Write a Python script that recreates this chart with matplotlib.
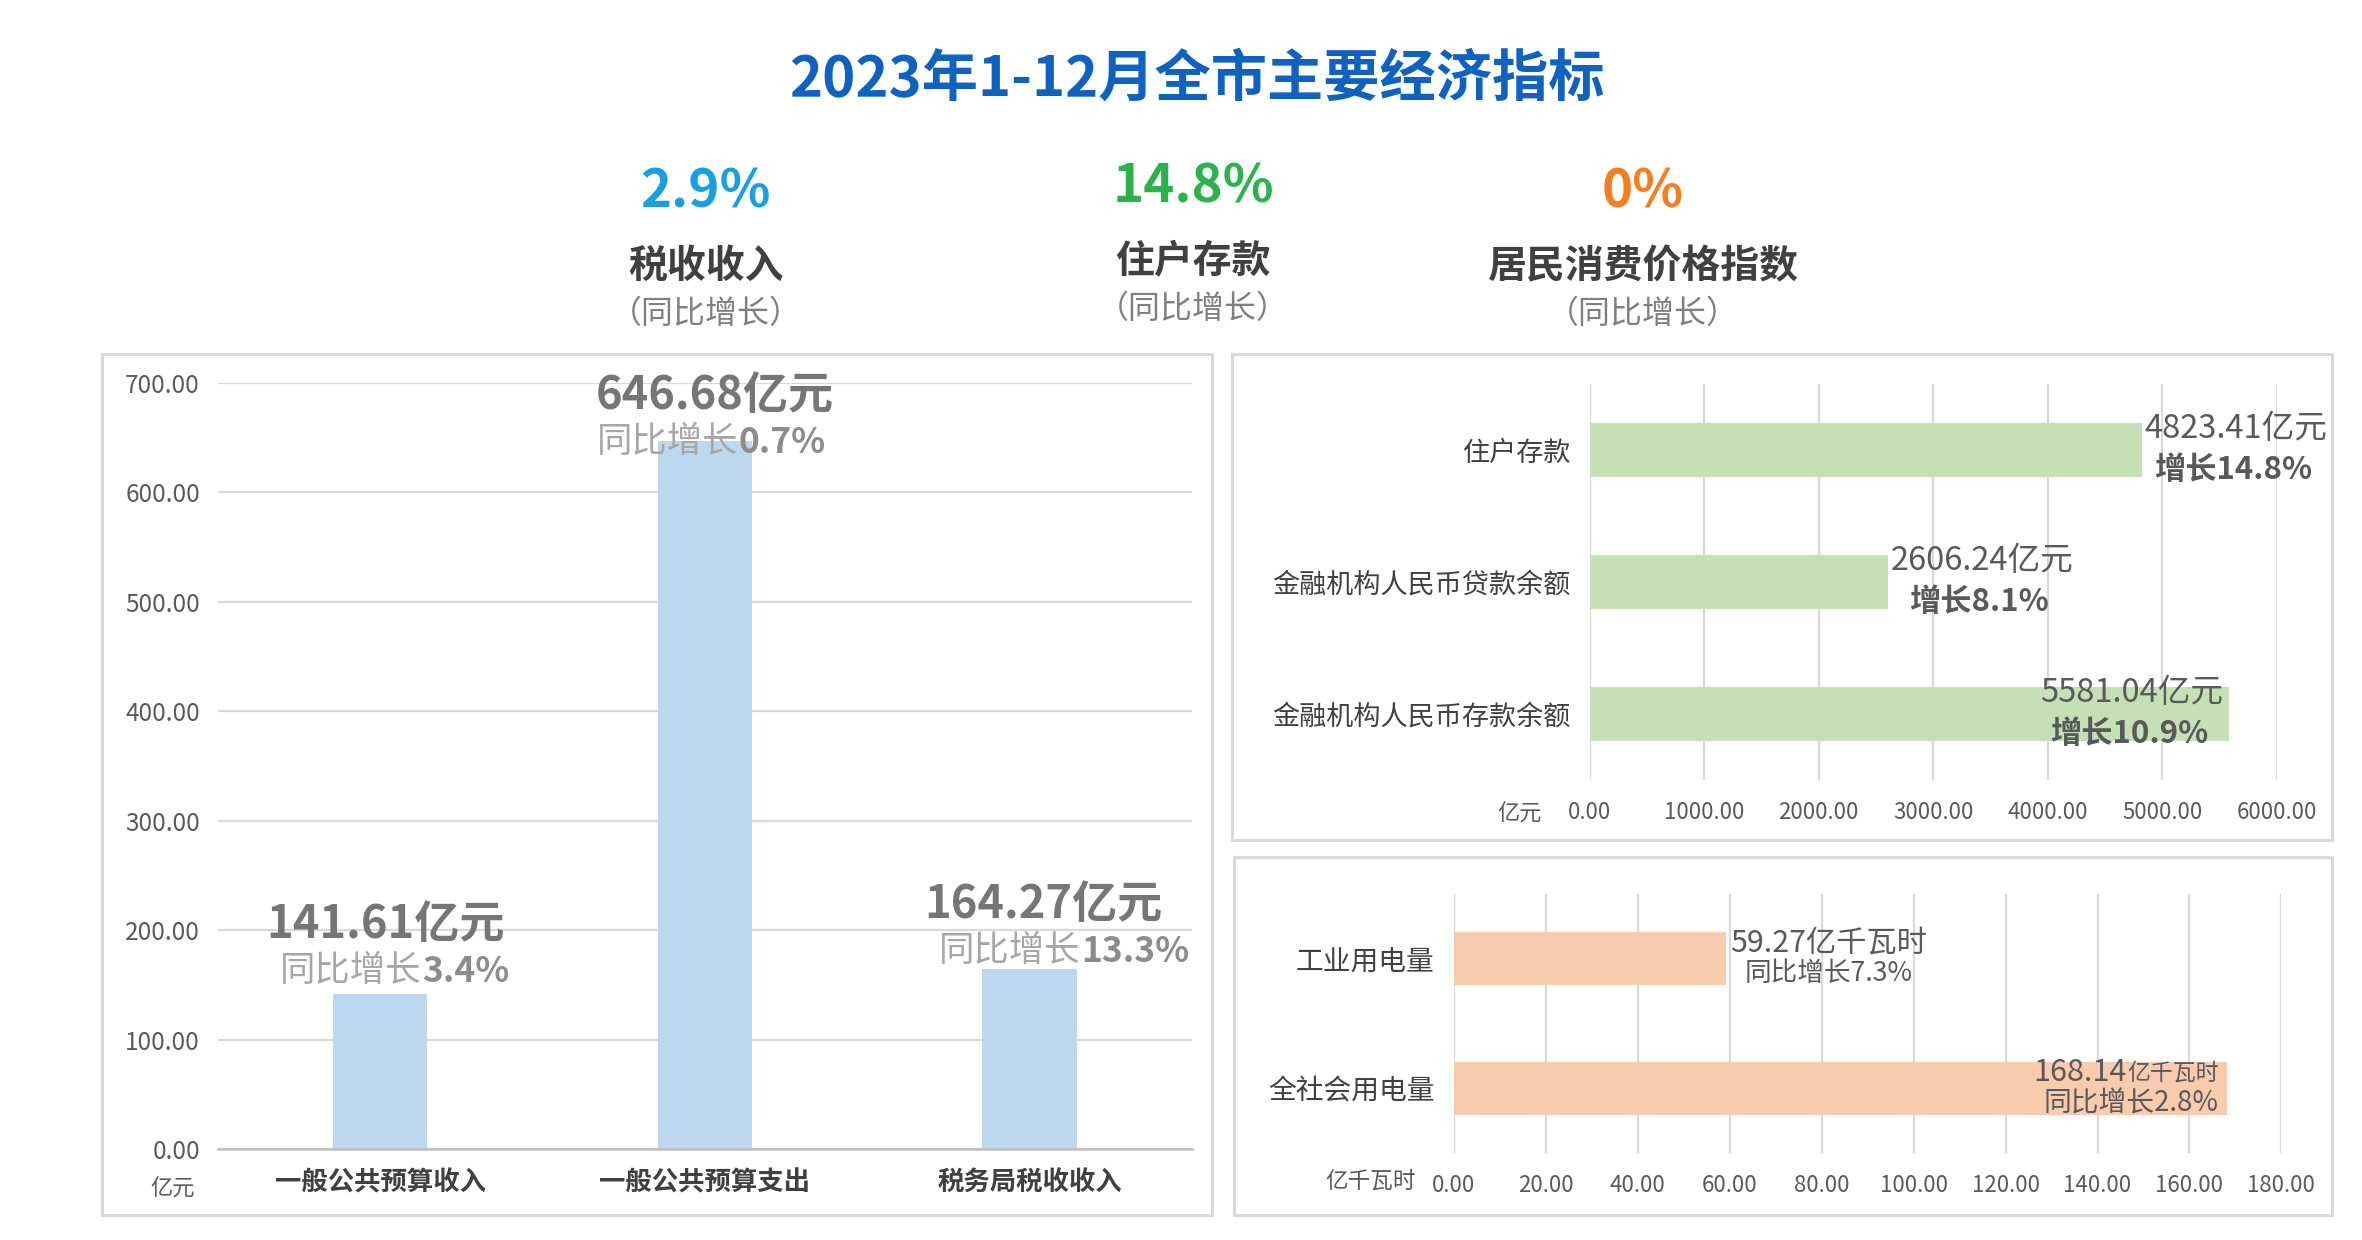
import matplotlib
matplotlib.use('Agg')
import matplotlib.pyplot as plt
from matplotlib.patches import Rectangle

plt.rcParams['font.family'] = ['Noto Sans CJK SC', 'DejaVu Sans']

# ---------------- data ----------------
title = '2023年1-12月全市主要经济指标'
kpi_values = ['2.9%', '14.8%', '0%']
kpi_names = ['税收收入', '住户存款', '居民消费价格指数']
kpi_sub = '（同比增长）'

budget_cats = ['一般公共预算收入', '一般公共预算支出', '税务局税收收入']
budget_vals = [141.61, 646.68, 164.27]
budget_growth = ['3.4%', '0.7%', '13.3%']
budget_ticks = [0, 100, 200, 300, 400, 500, 600, 700]

fin_cats = ['住户存款', '金融机构人民币贷款余额', '金融机构人民币存款余额']
fin_vals = [4823.41, 2606.24, 5581.04]
fin_growth = ['14.8%', '8.1%', '10.9%']
fin_ticks = [0, 1000, 2000, 3000, 4000, 5000, 6000]

elec_cats = ['工业用电量', '全社会用电量']
elec_vals = [59.27, 168.14]
elec_growth = ['7.3%', '2.8%']
elec_ticks = [0, 20, 40, 60, 80, 100, 120, 140, 160, 180]

# ---------------- style ----------------
W, H = 2362, 1240
S = 1.524  # display -> actual px


def P(x, y):
    return x / W, 1 - y / H


def D(x, y):
    return P(x * S, y * S)


kpi_colors = ['#1a9fe0', '#2bb24c', '#f47e20']
grid_c = '#d9d9d9'
tick_c = '#595959'
cat_c = '#404040'

fig = plt.figure(figsize=(W / 100, H / 100), dpi=100)
fig.patch.set_facecolor('white')

# title
fig.text(*D(785, 52), title, ha='center', va='center', fontsize=40.5,
         fontweight='bold', color='#0f62c0')

kpi_x = [463, 783, 1078]
kpi_dy = [0, -3, 0]
for i in range(3):
    x = kpi_x[i]
    fig.text(*D(x, 126 + kpi_dy[i]), kpi_values[i], ha='center', va='center',
             fontsize=38, fontweight='bold', color=kpi_colors[i])
    fig.text(*D(x, 175 + kpi_dy[i]), kpi_names[i], ha='center', va='center',
             fontsize=28, fontweight='bold', color=cat_c)
    fig.text(*D(x, 206 + kpi_dy[i]), kpi_sub, ha='center', va='center',
             fontsize=23, color='#7f7f7f')


def panel(x0, y0, x1, y1):
    fx0, fy1 = P(x0, y0)
    fx1, fy0 = P(x1, y1)
    fig.add_artist(Rectangle((fx0, fy0), fx1 - fx0, fy1 - fy0,
                             transform=fig.transFigure, fill=False,
                             edgecolor=grid_c, lw=2.2))


panel(102, 354, 1212, 1215)
panel(1232, 354, 2332, 840)
panel(1234, 857, 2332, 1215)


def axes_from(x0, y0, x1, y1):
    fx0, fy1 = D(x0, y0)
    fx1, fy0 = D(x1, y1)
    return fig.add_axes([fx0, fy0, fx1 - fx0, fy1 - fy0])


# ---------------- left: vertical bars ----------------
ax1 = axes_from(143, 251, 782, 754)
xs = list(range(len(budget_cats)))
ax1.bar(xs, budget_vals, width=0.29, color='#bdd7ee', zorder=2)
ax1.set_xlim(-0.5, len(budget_cats) - 0.5)
ax1.set_ylim(0, 700)
ax1.set_yticks(budget_ticks)
ax1.set_yticklabels([f'{v:.2f}' for v in budget_ticks])
ax1.set_xticks(xs)
ax1.set_xticklabels(budget_cats)
ax1.yaxis.grid(True, color=grid_c, lw=1.6, zorder=0)
ax1.set_axisbelow(True)
for s in ['top', 'right', 'left']:
    ax1.spines[s].set_visible(False)
ax1.spines['bottom'].set_color('#bfbfbf')
ax1.spines['bottom'].set_linewidth(1.8)
ax1.tick_params(axis='y', length=0, pad=13, labelsize=17.5, labelcolor=tick_c)
ax1.tick_params(axis='x', length=0, pad=15, labelsize=19, labelcolor=cat_c)
for lab in ax1.get_xticklabels():
    lab.set_fontweight('bold')
fig.text(*D(113, 780), '亿元', ha='center', va='center', fontsize=16,
         color=tick_c)

# label offsets (points) above each bar top: (dx, dy_value, dx_growth, dy_growth)
lab_off = [(4, 50, 7, 16.5), (7, 32, 1, -1), (10, 46, 14, 13)]
gfs = 25.5
for i, v in enumerate(budget_vals):
    dx, dy, gdx, gdy = lab_off[i]
    ax1.annotate(f'{v:.2f}亿元', xy=(i, v), xytext=(dx, dy),
                 textcoords='offset points', ha='center', va='center',
                 fontsize=32.5, fontweight='bold', color='#767676', zorder=5)
    t = ax1.annotate('同比增长', xy=(i, v), xytext=(gdx + 0.9 * gfs, gdy),
                     textcoords='offset points', ha='right', va='center',
                     fontsize=gfs, color='#a6a6a6', zorder=5)
    ax1.annotate(budget_growth[i], xy=(1, 0.5), xycoords=t,
                 ha='left', va='center', fontsize=gfs, fontweight='bold',
                 color='#8c8c8c', zorder=5)

# ---------------- right top: horizontal bars ----------------
ax2 = axes_from(1043, 252, 1494, 512)
ys = list(range(len(fin_cats)))
ax2.barh(ys, fin_vals, height=0.41, color='#c5e0b4', zorder=2)
ax2.set_ylim(len(fin_cats) - 0.5, -0.5)
ax2.set_xlim(0, 6000)
ax2.set_xticks(fin_ticks)
ax2.set_xticklabels([f'{v:.2f}' for v in fin_ticks])
ax2.set_yticks(ys)
ax2.set_yticklabels(fin_cats)
ax2.xaxis.grid(True, color=grid_c, lw=1.6, zorder=0)
ax2.set_axisbelow(True)
for s in ['top', 'right', 'left', 'bottom']:
    ax2.spines[s].set_visible(False)
ax2.tick_params(axis='x', length=0, pad=15, labelsize=16, labelcolor=tick_c)
ax2.tick_params(axis='y', length=0, pad=14, labelsize=19.5, labelcolor=cat_c)
fig.text(*D(1012, 534), '亿元', ha='right', va='center', fontsize=16,
         color=tick_c)

for i, v in enumerate(fin_vals):
    inside = v > 5000
    t = ax2.annotate(f'{v:.2f}亿元', xy=(v, i),
                     xytext=(-4 if inside else 2, 15),
                     textcoords='offset points',
                     ha='right' if inside else 'left', va='center',
                     fontsize=23.5, color=tick_c, zorder=5)
    ax2.annotate(f'增长{fin_growth[i]}', xy=(0.5, 0.5), xycoords=t,
                 xytext=(-2, -29), textcoords='offset points',
                 ha='center', va='center', fontsize=22.5, fontweight='bold',
                 color=tick_c, zorder=5)

# ---------------- right bottom: horizontal bars ----------------
ax3 = axes_from(954, 586.5, 1497, 756.5)
ys3 = list(range(len(elec_cats)))
ax3.barh(ys3, elec_vals, height=0.41, color='#f8cbad', zorder=2)
ax3.set_ylim(len(elec_cats) - 0.5, -0.5)
ax3.set_xlim(0, 180)
ax3.set_xticks(elec_ticks)
ax3.set_xticklabels([f'{v:.2f}' for v in elec_ticks])
ax3.set_yticks(ys3)
ax3.set_yticklabels(elec_cats)
ax3.xaxis.grid(True, color=grid_c, lw=1.6, zorder=0)
ax3.set_axisbelow(True)
for s in ['top', 'right', 'left', 'bottom']:
    ax3.spines[s].set_visible(False)
ax3.tick_params(axis='x', length=0, pad=15, labelsize=16, labelcolor=tick_c)
ax3.tick_params(axis='y', length=0, pad=14, labelsize=20, labelcolor=cat_c)
fig.text(*D(929, 775), '亿千瓦时', ha='right', va='center', fontsize=16.3,
         color=tick_c)

for i, v in enumerate(elec_vals):
    inside = v > 150
    if inside:
        u = ax3.annotate('亿千瓦时', xy=(v, i), xytext=(-6, 11),
                         textcoords='offset points', ha='right',
                         va='center', fontsize=16.5, color=tick_c, zorder=5)
        ax3.annotate(f'{v:.2f}', xy=(0, 0.5), xycoords=u,
                     ha='right', va='center', fontsize=22,
                     color=tick_c, zorder=5)
        ax3.annotate(f'同比增长{elec_growth[i]}', xy=(v, i),
                     xytext=(-6, -11), textcoords='offset points',
                     ha='right', va='center', fontsize=20,
                     color=tick_c, zorder=5)
    else:
        t = ax3.annotate(f'{v:.2f}亿千瓦时', xy=(v, i), xytext=(3, 11),
                         textcoords='offset points', ha='left', va='center',
                         fontsize=21.8, color=tick_c, zorder=5)
        ax3.annotate(f'同比增长{elec_growth[i]}', xy=(0.5, 0.5),
                     xycoords=t, xytext=(0, -22), textcoords='offset points',
                     ha='center', va='center', fontsize=19.2,
                     color=tick_c, zorder=5)

fig.savefig('out.png', dpi=100, facecolor='white')
